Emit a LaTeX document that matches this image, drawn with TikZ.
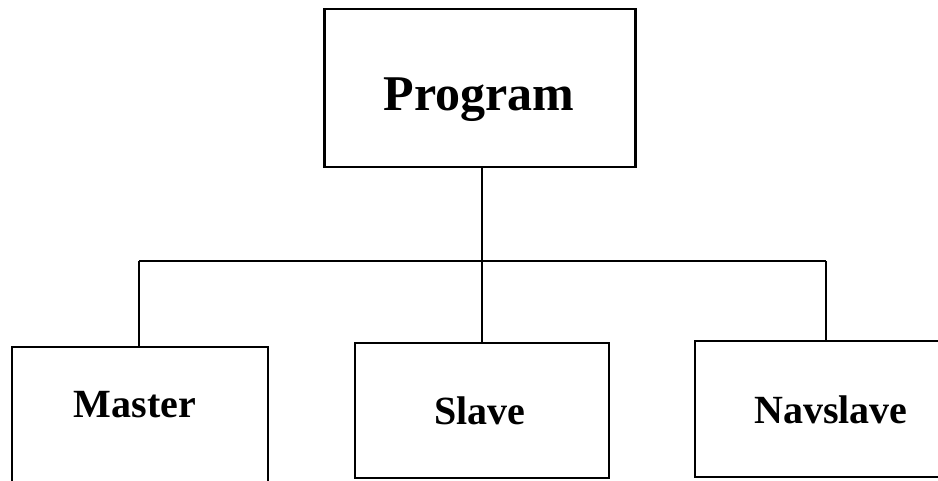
\documentclass[tikz,border=0pt]{standalone}
\usepackage{fontspec}
\setmainfont{Liberation Serif}
\begin{document}
\begin{tikzpicture}[x=1pt,y=-1pt,
  box/.style={draw, line width=2.4pt, inner sep=0pt, outer sep=0pt},
  bigtxt/.style={anchor=base, inner sep=0pt, font=\fontsize{50}{60}\selectfont\bfseries},
  smalltxt/.style={anchor=base, inner sep=0pt, font=\fontsize{40}{48}\selectfont\bfseries},
  conn/.style={line width=2.2pt}]
\useasboundingbox (0,0) rectangle (938,480);
\clip (0,0) rectangle (938,480);
% boxes
\node[box, minimum width=311pt, minimum height=158pt] (prog) at (480,88) {};
\node[box, minimum width=256pt, minimum height=136pt] (master) at (140,415) {};
\node[box, minimum width=254pt, minimum height=135pt] (slave) at (482,410.5) {};
\node[box, minimum width=270pt, minimum height=136pt] (nav) at (830,409) {};
% labels
\node[bigtxt] (progtxt) at (479,110) {Program};
\node[smalltxt] (mastertxt) at (135,417) {Master};
\node[smalltxt] (slavetxt) at (480,424) {Slave};
\node[smalltxt] (navtxt) at (831,423) {Navslave};
% connectors
\coordinate (hl) at (139,261);
\coordinate (hm) at (482,261);
\coordinate (hr) at (826,261);
\draw[conn] (prog.south -| hm) -- (hm);
\draw[conn] (hl) -- (hr);
\draw[conn] (hl) -- (hl |- master.north);
\draw[conn] (hm) -- (slave.north);
\draw[conn] (hr) -- (hr |- nav.north);
\end{tikzpicture}
\end{document}
